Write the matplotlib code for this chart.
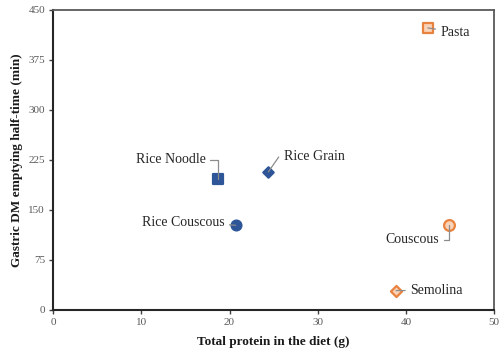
import matplotlib.pyplot as plt

plt.rcParams['font.family'] = ['Liberation Serif', 'DejaVu Serif']

# Protein vs gastric emptying half-time for each meal
foods = ['Rice Noodle', 'Rice Grain', 'Rice Couscous', 'Pasta', 'Couscous', 'Semolina']
protein = [18.7, 24.4, 20.7, 42.5, 44.9, 38.9]
half_time = [196, 207, 127, 423, 128, 29]
markers = ['s', 'D', 'o', 's', 'o', 'D']
sizes = [55, 28, 50, 60, 60, 32]

blue = '#2E5597'
orange = '#E9823F'
light_orange = '#F9D3B8'
edge_colors = [blue, blue, blue, orange, orange, orange]
face_colors = [blue, blue, blue, light_orange, light_orange, light_orange]

# label offsets (points) and how the leader line bends
label_pos = {
    'Rice Noodle': ((-9, 14), 'right', 'angle,angleA=0,angleB=90'),
    'Rice Grain': ((11, 11), 'left', 'angle,angleA=0,angleB=55,rad=0'),
    'Rice Couscous': ((-8, 2), 'right', 'arc3'),
    'Pasta': ((9, -3), 'left', 'arc3'),
    'Couscous': ((-7, -11), 'right', 'angle,angleA=0,angleB=90'),
    'Semolina': ((10, 0), 'left', 'arc3'),
}

fig = plt.figure(figsize=(5.02, 3.55), dpi=100)
ax = fig.add_axes([0.106, 0.127, 0.878, 0.845])

for i, name in enumerate(foods):
    ax.scatter(protein[i], half_time[i], marker=markers[i], s=sizes[i],
               facecolor=face_colors[i], edgecolor=edge_colors[i],
               linewidth=1.6, zorder=3)
    off, ha, conn = label_pos[name]
    ax.annotate(name, xy=(protein[i], half_time[i]), xytext=off,
                textcoords='offset points', ha=ha, va='center',
                fontsize=10, color='#262626',
                arrowprops=dict(arrowstyle='-', color='#8C8C8C', lw=0.9,
                                connectionstyle=conn, shrinkA=1.5, shrinkB=0),
                zorder=4)

ax.set_xlim(0, 50)
ax.set_ylim(0, 450)
ax.set_xticks(range(0, 51, 10))
ax.set_yticks(range(0, 451, 75))
ax.tick_params(direction='out', length=3, width=1, labelsize=8,
               labelcolor='#595959', color='#404040', pad=3)

for side in ['left', 'bottom']:
    ax.spines[side].set_linewidth(1.5)
    ax.spines[side].set_color('#262626')
for side in ['top', 'right']:
    ax.spines[side].set_linewidth(1.3)
    ax.spines[side].set_color('#595959')

ax.set_xlabel('Total protein in the diet (g)', fontsize=9.5, fontweight='bold',
              color='#1a1a1a', labelpad=6)
ax.set_ylabel('Gastric DM emptying half-time (min)', fontsize=9.5,
              fontweight='bold', color='#1a1a1a', labelpad=4)

fig.savefig('out.png', dpi=100)
